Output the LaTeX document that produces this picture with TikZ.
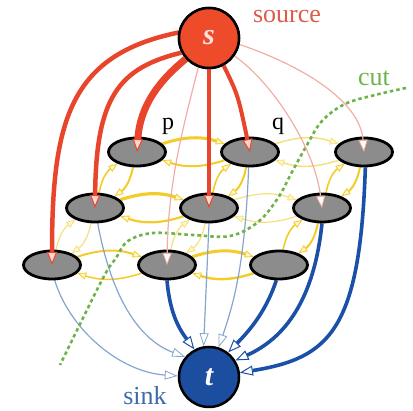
\documentclass[tikz,border=0pt]{standalone}
\usepackage{fontspec}
\setmainfont{Liberation Serif}
\usetikzlibrary{arrows.meta,shapes.geometric}
\definecolor{sred}{HTML}{EE4B2B}
\definecolor{ered}{HTML}{E8452C}
\definecolor{epink}{HTML}{F0AEA4}
\definecolor{tipred}{HTML}{FBD6CE}
\definecolor{tblue}{HTML}{1B4E9E}
\definecolor{eblue}{HTML}{1A50A8}
\definecolor{lblue}{HTML}{86A4CE}
\definecolor{yel}{HTML}{F3CC2A}
\definecolor{ypale}{HTML}{F6E07C}
\definecolor{ytipfill}{HTML}{FFF6CC}
\definecolor{cutgreen}{HTML}{6DB34A}
\definecolor{ellgray}{HTML}{8C8C8C}
\definecolor{srctext}{HTML}{E05A4A}
\definecolor{sinktext}{HTML}{3D6AA8}
\pgfdeclarelayer{bg}
\pgfsetlayers{bg,main}
\tikzset{
  rtip/.tip={Triangle[length=13pt,width=10pt,line width=1pt,fill=tipred]},
  ptip/.tip={Triangle[length=12pt,width=9pt,line width=0.8pt,fill=white]},
  btip/.tip={Triangle[length=13pt,width=10pt,line width=1pt,fill=white]},
  lbtip/.tip={Triangle[length=13pt,width=9pt,line width=0.8pt,fill=white]},
  ytip/.tip={Triangle[length=9pt,width=7pt,line width=0.8pt,fill=ytipfill]},
  pix/.style={ellipse,draw=black,line width=2.8pt,fill=ellgray,minimum width=57pt,minimum height=28pt,inner sep=0pt},
  term/.style={circle,draw=black,line width=2.5pt,minimum size=60pt,inner sep=0pt,text=white,font=\fontsize{30}{30}\selectfont\bfseries\itshape},
  redthick/.style={draw=ered,line width=#1,-rtip},
  redthin/.style={draw=epink,line width=1.2pt,-ptip},
  bluethick/.style={draw=eblue,line width=#1,-btip},
  bluethin/.style={draw=lblue,line width=1.2pt,-lbtip},
  ylink/.style={draw=yel,line width=#1,-ytip},
  ylinkp/.style={draw=ypale,line width=#1,-ytip},
  hb/.style={bend left=18},
  vb/.style={bend left=22},
  lbl/.style={font=\fontsize{26}{26}\selectfont,inner sep=0pt},
}
\begin{document}
\begin{tikzpicture}[x=1pt,y=-1pt]
\useasboundingbox (0,0) rectangle (413,411);
% terminals
\node[term,fill=sred,text=white!88!red] (s) at (209,38) {s};
\node[term,fill=tblue] (t) at (209,377) {t};
% pixels
\node[pix] (n11) at (137,152) {};
\node[pix] (n12) at (250,152) {};
\node[pix] (n13) at (364,152) {};
\node[pix] (n21) at (95,208) {};
\node[pix] (n22) at (209,208) {};
\node[pix] (n23) at (322,208) {};
\node[pix] (n31) at (52,265) {};
\node[pix] (n32) at (167,265) {};
\node[pix] (n33) at (279,265) {};
% labels
\node[lbl,text=srctext] (src) at (287,17) {source};
\node[lbl,text=sinktext] (snk) at (145,396) {sink};
\node[lbl,text=cutgreen] (cutl) at (374,78) {cut};
\node[font=\fontsize{24}{24}\selectfont,inner sep=0pt] (lp) at (168,126) {p};
\node[font=\fontsize{24}{24}\selectfont,inner sep=0pt] (lq) at (278,126) {q};
\begin{pgfonlayer}{bg}
% n-links
\draw[ylink=3pt] (n11) to[hb] (n12);
\draw[ylink=2pt] (n12) to[hb] (n11);
\draw[ylinkp=1.5pt] (n12) to[hb] (n13);
\draw[ylinkp=1.5pt] (n13) to[hb] (n12);
\draw[ylink=3.2pt] (n21) to[hb] (n22);
\draw[ylink=2.2pt] (n22) to[hb] (n21);
\draw[ylinkp=1.2pt] (n22) to[hb] (n23);
\draw[ylinkp=1.2pt] (n23) to[hb] (n22);
\draw[ylink=2pt] (n31) to[hb] (n32);
\draw[ylink=1.5pt] (n32) to[hb] (n31);
\draw[ylink=3pt] (n32) to[hb] (n33);
\draw[ylink=2.4pt] (n33) to[hb] (n32);
\draw[ylink=2pt] (n11) to[vb] (n21);
\draw[ylink=1.6pt] (n21) to[vb] (n11);
\draw[ylink=2pt] (n12) to[vb] (n22);
\draw[ylink=1.6pt] (n22) to[vb] (n12);
\draw[ylink=2pt] (n13) to[vb] (n23);
\draw[ylink=1.6pt] (n23) to[vb] (n13);
\draw[ylinkp=1.2pt] (n21) to[vb] (n31);
\draw[ylinkp=1.2pt] (n31) to[vb] (n21);
\draw[ylinkp=1.2pt] (n22) to[vb] (n32);
\draw[ylinkp=1.2pt] (n32) to[vb] (n22);
\draw[ylink=2pt] (n23) to[vb] (n33);
\draw[ylink=1.6pt] (n33) to[vb] (n23);
% t-links
\draw[bluethin] (n31.-80) .. controls (70,330) and (120,372) .. (t.178);
\draw[bluethin] (n21.-80) .. controls (112,300) and (140,340) .. (t.140);
\draw[bluethick=3.6pt] (n32.-90) .. controls (170,315) and (180,330) .. (t.118);
\draw[bluethin] (n22.-90) -- (t.100);
\draw[bluethin] (n12.-95) .. controls (245,260) and (235,300) .. (t.72);
\draw[bluethick=3.6pt] (n33.-100) .. controls (265,315) and (245,335) .. (t.52);
\draw[bluethick=3.6pt] (n23.-90) .. controls (314,300) and (285,338) .. (t.32);
\draw[bluethick=3.6pt] (n13.-85) .. controls (360,330) and (330,358) .. (t.8);
% cut
\draw[cutgreen,line width=2.6pt,dash pattern=on 3.5pt off 3pt] plot[smooth,tension=0.6] coordinates {(406,88) (375,95) (345,104) (322,121) (307,145) (292,172) (278,198) (258,222) (230,236) (193,235) (153,233) (128,241) (116,258) (102,280) (60,365)};
\end{pgfonlayer}
% s-links
\draw[redthick=4.5pt] (s.170) .. controls (70,55) and (52,120) .. (n31.center);
\draw[redthick=4.5pt] (s.208) .. controls (118,68) and (96,98) .. (n21.center);
\draw[redthick=7pt] (s.222) .. controls (160,80) and (140,105) .. (n11.center);
\draw[redthin] (s.250) .. controls (185,120) and (168,180) .. (n32.center);
\draw[redthick=4pt] (s.south) -- (n22.center);
\draw[redthick=4pt] (s.-62) .. controls (238,95) .. (n12.center);
\draw[redthin] (s.-35) .. controls (275,85) and (315,150) .. (n23.center);
\draw[redthin] (s.-12) .. controls (300,65) and (360,100) .. (n13.center);
% redraw terminals on top
\node[term,fill=sred,text=white!88!red] at (s) {s};
\end{tikzpicture}
\end{document}
